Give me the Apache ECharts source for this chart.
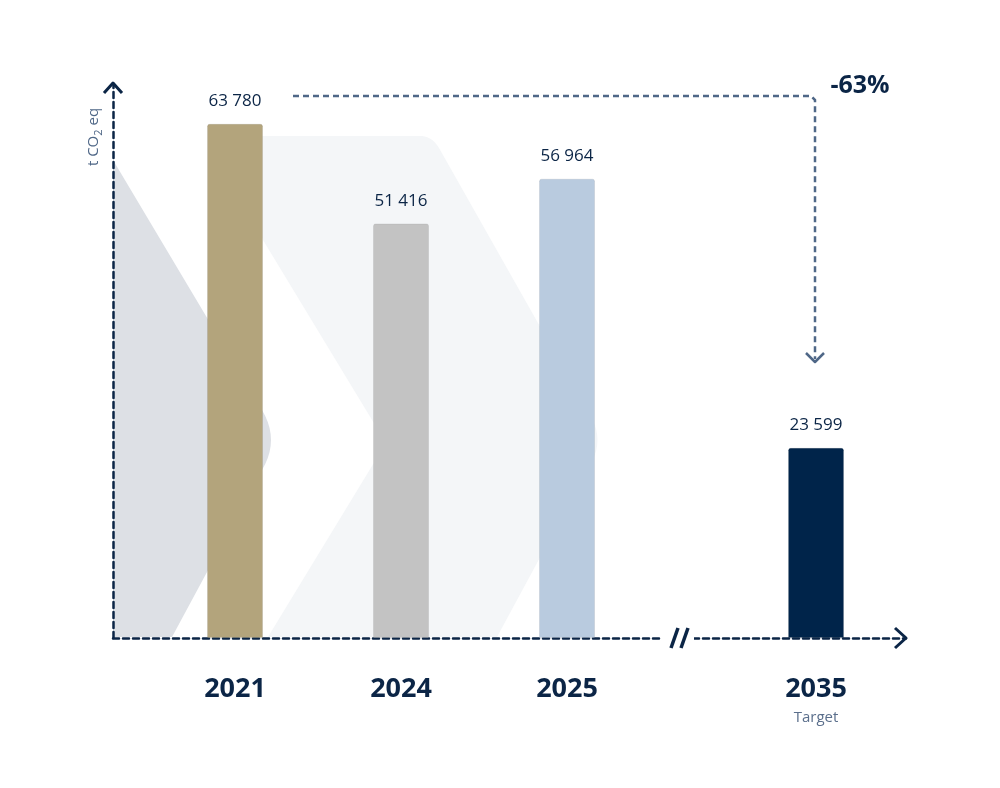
<!DOCTYPE html>
<html>
<head>
<meta charset="utf-8">
<script src="https://cdn.jsdelivr.net/npm/echarts@6/dist/echarts.min.js"></script>
<style>
html,body{margin:0;padding:0;background:#fff;}
#chart{width:1000px;height:788px;}
</style>
</head>
<body>
<div id="chart"></div>
<script>
// ---- data ----
const categories = ['2021', '2024', '2025', '2035'];
const subLabels = ['', '', '', 'Target'];
const values = [63780, 51416, 56964, 23599];
const changeLabel = '-63%';
const unitLabel = ['t CO', '2', ' eq'];

// ---- layout / style ----
const slotPos = [0, 1, 2, 3.5];           // position of each category on the x scale (gap before target)
const barColors = ['#b3a47c', '#c3c3c3', '#b9cbdf', '#00244a'];
const navy = '#0b2546';
const slate = '#4f6787';

function fmt(v) {
  return String(v).replace(/\B(?=(\d{3})+(?!\d))/g, ' ');
}

// build a polygon outline; entries are either [x,y] or {q:[cx,cy], to:[x,y]} (quadratic corner)
function outline(spec) {
  const pts = [];
  let last = null;
  spec.forEach(s => {
    if (Array.isArray(s)) { pts.push(s); last = s; }
    else {
      const c = s.q, t = s.to;
      for (let k = 1; k <= 10; k++) {
        const u = k / 10;
        const x = (1 - u) * (1 - u) * last[0] + 2 * (1 - u) * u * c[0] + u * u * t[0];
        const y = (1 - u) * (1 - u) * last[1] + 2 * (1 - u) * u * c[1] + u * u * t[1];
        pts.push([x, y]);
      }
      last = t;
    }
  });
  return pts;
}

const darkShape = outline([[113, 160], [262, 410], {q: [280, 440], to: [262, 470]}, [172, 637], [113, 637]]);
const lightShape = outline([[228, 136], [420, 136], {q: [432, 136], to: [439, 148]}, [590, 415],
  {q: [605, 440], to: [590, 465]}, [497, 637], [268, 637], [386, 443], [263, 240]]);

const chart = echarts.init(document.getElementById('chart'), null, {renderer: 'canvas'});

const option = {
  backgroundColor: '#ffffff',
  animation: false,
  grid: {left: 113, right: 94, top: 84, bottom: 150, containLabel: false},
  xAxis: {
    type: 'value',
    min: -0.735,
    max: 4.042,
    splitLine: {show: false},
    axisTick: {show: false},
    axisLine: {show: true, onZero: false, lineStyle: {color: navy, width: 2.5, type: [6, 4]}},
    axisLabel: {
      show: true,
      customValues: slotPos,
      margin: 36,
      formatter: function (val) {
        const i = slotPos.findIndex(p => Math.abs(p - val) < 1e-6);
        if (i < 0) return '';
        return subLabels[i] ? '{y|' + categories[i] + '}\n{t|' + subLabels[i] + '}' : '{y|' + categories[i] + '}';
      },
      rich: {
        y: {fontFamily: 'Open Sans', fontWeight: 'bold', fontSize: 27, color: navy, lineHeight: 30},
        t: {fontFamily: 'Open Sans', fontSize: 15, color: '#5b6f8c', lineHeight: 28}
      }
    }
  },
  yAxis: {
    type: 'value',
    min: 0,
    max: 68700,
    splitLine: {show: false},
    axisTick: {show: false},
    axisLabel: {show: false},
    axisLine: {show: true, onZero: false, lineStyle: {color: navy, width: 2.5, type: [6, 4]}}
  },
  graphic: [
    // decorative background chevrons
    {type: 'polygon', z: -10, shape: {points: darkShape}, style: {fill: '#dde0e5'}},
    {type: 'polygon', z: -10, shape: {points: lightShape}, style: {fill: '#f4f6f8'}},
    // axis arrowheads
    {type: 'polyline', z: 5, shape: {points: [[104, 93], [113, 83], [122, 93]]},
      style: {stroke: navy, lineWidth: 3, fill: null, lineJoin: 'round'}},
    {type: 'polyline', z: 5, shape: {points: [[895, 628], [906, 638], [895, 648]]},
      style: {stroke: navy, lineWidth: 3, fill: null, lineJoin: 'round'}},
    // axis break
    {type: 'rect', z: 5, shape: {x: 661, y: 628, width: 33, height: 20}, style: {fill: '#ffffff'}},
    {type: 'line', z: 6, shape: {x1: 671, y1: 648, x2: 678, y2: 628}, style: {stroke: navy, lineWidth: 3.5}},
    {type: 'line', z: 6, shape: {x1: 681, y1: 648, x2: 688, y2: 628}, style: {stroke: navy, lineWidth: 3.5}},
    // change connector
    {type: 'polyline', z: 5, shape: {points: [[293, 96], [811, 96], [815, 100], [815, 359]]},
      style: {stroke: slate, lineWidth: 2.5, fill: null, lineDash: [6, 4]}},
    {type: 'polyline', z: 5, shape: {points: [[806, 353], [815, 362], [824, 353]]},
      style: {stroke: slate, lineWidth: 2.5, fill: null, lineJoin: 'round'}},
    {type: 'text', z: 5, x: 860, y: 86,
      style: {text: changeLabel, fontFamily: 'Open Sans', fontWeight: 'bold', fontSize: 25, fill: navy,
        align: 'center', verticalAlign: 'middle'}},
    // y-axis unit
    {type: 'text', z: 5, x: 94, y: 137, rotation: Math.PI / 2,
      style: {
        text: '{a|' + unitLabel[0] + '}{s|' + unitLabel[1] + '}{a|' + unitLabel[2] + '}',
        align: 'center', verticalAlign: 'middle',
        rich: {
          a: {fontFamily: 'Open Sans', fontSize: 15, fill: slate, lineHeight: 20, verticalAlign: 'middle'},
          s: {fontFamily: 'Open Sans', fontSize: 11, fill: slate, lineHeight: 20, verticalAlign: 'bottom', padding: [8, 0, 0, 0]}
        }
      }}
  ],
  series: [{
    type: 'bar',
    barWidth: 56,
    z: 2,
    data: values.map((v, i) => ({
      value: [slotPos[i], v],
      itemStyle: {color: barColors[i], borderRadius: [2, 2, 0, 0], borderColor: 'rgba(0,0,0,0.07)', borderWidth: 1}
    })),
    label: {
      show: true,
      position: 'top',
      distance: 14,
      fontFamily: 'Open Sans',
      fontSize: 17,
      color: navy,
      formatter: p => fmt(p.value[1])
    }
  }]
};
chart.setOption(option);
</script>
</body>
</html>
